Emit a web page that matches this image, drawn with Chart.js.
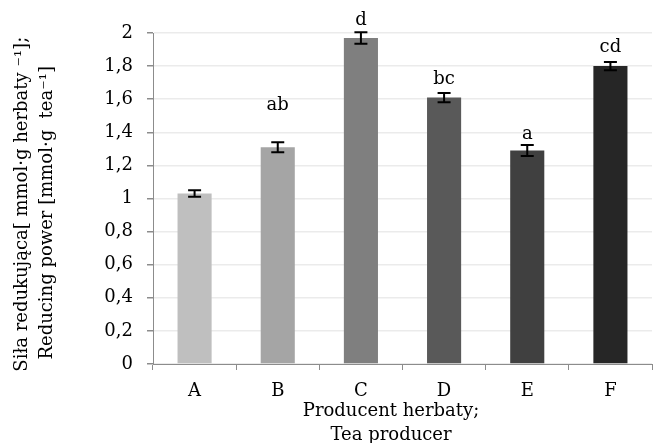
<!DOCTYPE html>
<html>
<head>
<meta charset="utf-8">
<script src="https://cdn.jsdelivr.net/npm/chart.js@4.4.0/dist/chart.umd.min.js"></script>
<style>
  html, body { margin: 0; padding: 0; background: #fff; overflow: hidden; }
  #wrap { width: 654px; height: 443px; overflow: hidden; }
</style>
</head>
<body>
<div id="wrap"><canvas id="chart" width="654" height="450"></canvas></div>
<script>
// Chart data
const producers = ['A', 'B', 'C', 'D', 'E', 'F'];
const reducingPower = [1.03, 1.31, 1.97, 1.61, 1.29, 1.80];
const errors = [0.02, 0.03, 0.035, 0.028, 0.033, 0.025];
const groupLetters = ['', 'ab', 'd', 'bc', 'a', 'cd'];
const yTickLabels = ['0', '0,2', '0,4', '0,6', '0,8', '1', '1,2', '1,4', '1,6', '1,8', '2'];

const barColors = ['#bfbfbf', '#a5a5a5', '#7f7f7f', '#595959', '#404040', '#262626'];
const letterGaps = [8, 32, 7, 9, 6, 10]; // px between error cap and letter baseline
const FONT = '"DejaVu Serif", "Liberation Serif", serif';
const AXIS_GREY = '#8c8c8c';

// error bars + significance letters
const errorBarPlugin = {
    id: 'errorBars',
    afterDatasetsDraw(chart) {
        const ctx = chart.ctx;
        const y = chart.scales.y;
        const meta = chart.getDatasetMeta(0);
        ctx.save();
        ctx.strokeStyle = '#000';
        ctx.lineWidth = 2;
        meta.data.forEach((bar, i) => {
            const top = y.getPixelForValue(reducingPower[i] + errors[i]);
            const bottom = y.getPixelForValue(reducingPower[i] - errors[i]);
            const cap = 6.5;
            ctx.beginPath();
            ctx.moveTo(bar.x, top);
            ctx.lineTo(bar.x, bottom);
            ctx.moveTo(bar.x - cap, top);
            ctx.lineTo(bar.x + cap, top);
            ctx.moveTo(bar.x - cap, bottom);
            ctx.lineTo(bar.x + cap, bottom);
            ctx.stroke();

            if (groupLetters[i]) {
                ctx.fillStyle = '#000';
                ctx.font = '18px ' + FONT;
                ctx.textAlign = 'center';
                ctx.textBaseline = 'alphabetic';
                ctx.fillText(groupLetters[i], bar.x, top - letterGaps[i]);
            }
        });
        ctx.restore();
    }
};

new Chart(document.getElementById('chart'), {
    type: 'bar',
    data: {
        labels: producers,
        datasets: [{
            data: reducingPower,
            backgroundColor: barColors,
            borderWidth: 0,
            barPercentage: 0.41,
            categoryPercentage: 1
        }]
    },
    options: {
        responsive: false,
        animation: false,
        layout: { padding: { top: 33, right: 2, left: 0, bottom: 0 } },
        plugins: {
            legend: { display: false },
            tooltip: { enabled: false }
        },
        scales: {
            x: {
                afterFit(scale) { scale.height = 86; },
                grid: {
                    drawOnChartArea: false,
                    offset: true,
                    tickLength: 6,
                    color: AXIS_GREY,
                    tickColor: AXIS_GREY
                },
                border: { color: AXIS_GREY, width: 1 },
                ticks: {
                    color: '#000',
                    padding: 11,
                    font: { family: FONT, size: 18 }
                },
                title: {
                    display: true,
                    text: ['Producent herbaty;    ', 'Tea producer    '],
                    color: '#000',
                    font: { family: FONT, size: 18, lineHeight: 1.36 },
                    padding: { top: 0, bottom: 2 }
                }
            },
            y: {
                min: 0,
                max: 2,
                afterFit(scale) { scale.width = 153; },
                grid: {
                    color: '#ebebeb',
                    lineWidth: 1.5,
                    tickLength: 6,
                    tickColor: AXIS_GREY
                },
                border: { color: AXIS_GREY, width: 1 },
                ticks: {
                    stepSize: 0.2,
                    color: '#000',
                    padding: 14,
                    font: { family: FONT, size: 18 },
                    callback: (value, index) => yTickLabels[index]
                },
                title: {
                    display: true,
                    text: ['Siła redukująca[ mmol·g herbaty ⁻¹];  ', 'Reducing power [mmol·g  tea⁻¹]     '],
                    color: '#000',
                    font: { family: FONT, size: 18, lineHeight: 1.39 },
                    padding: { top: 10, bottom: 0 }
                }
            }
        }
    },
    plugins: [errorBarPlugin]
});
</script>
</body>
</html>
